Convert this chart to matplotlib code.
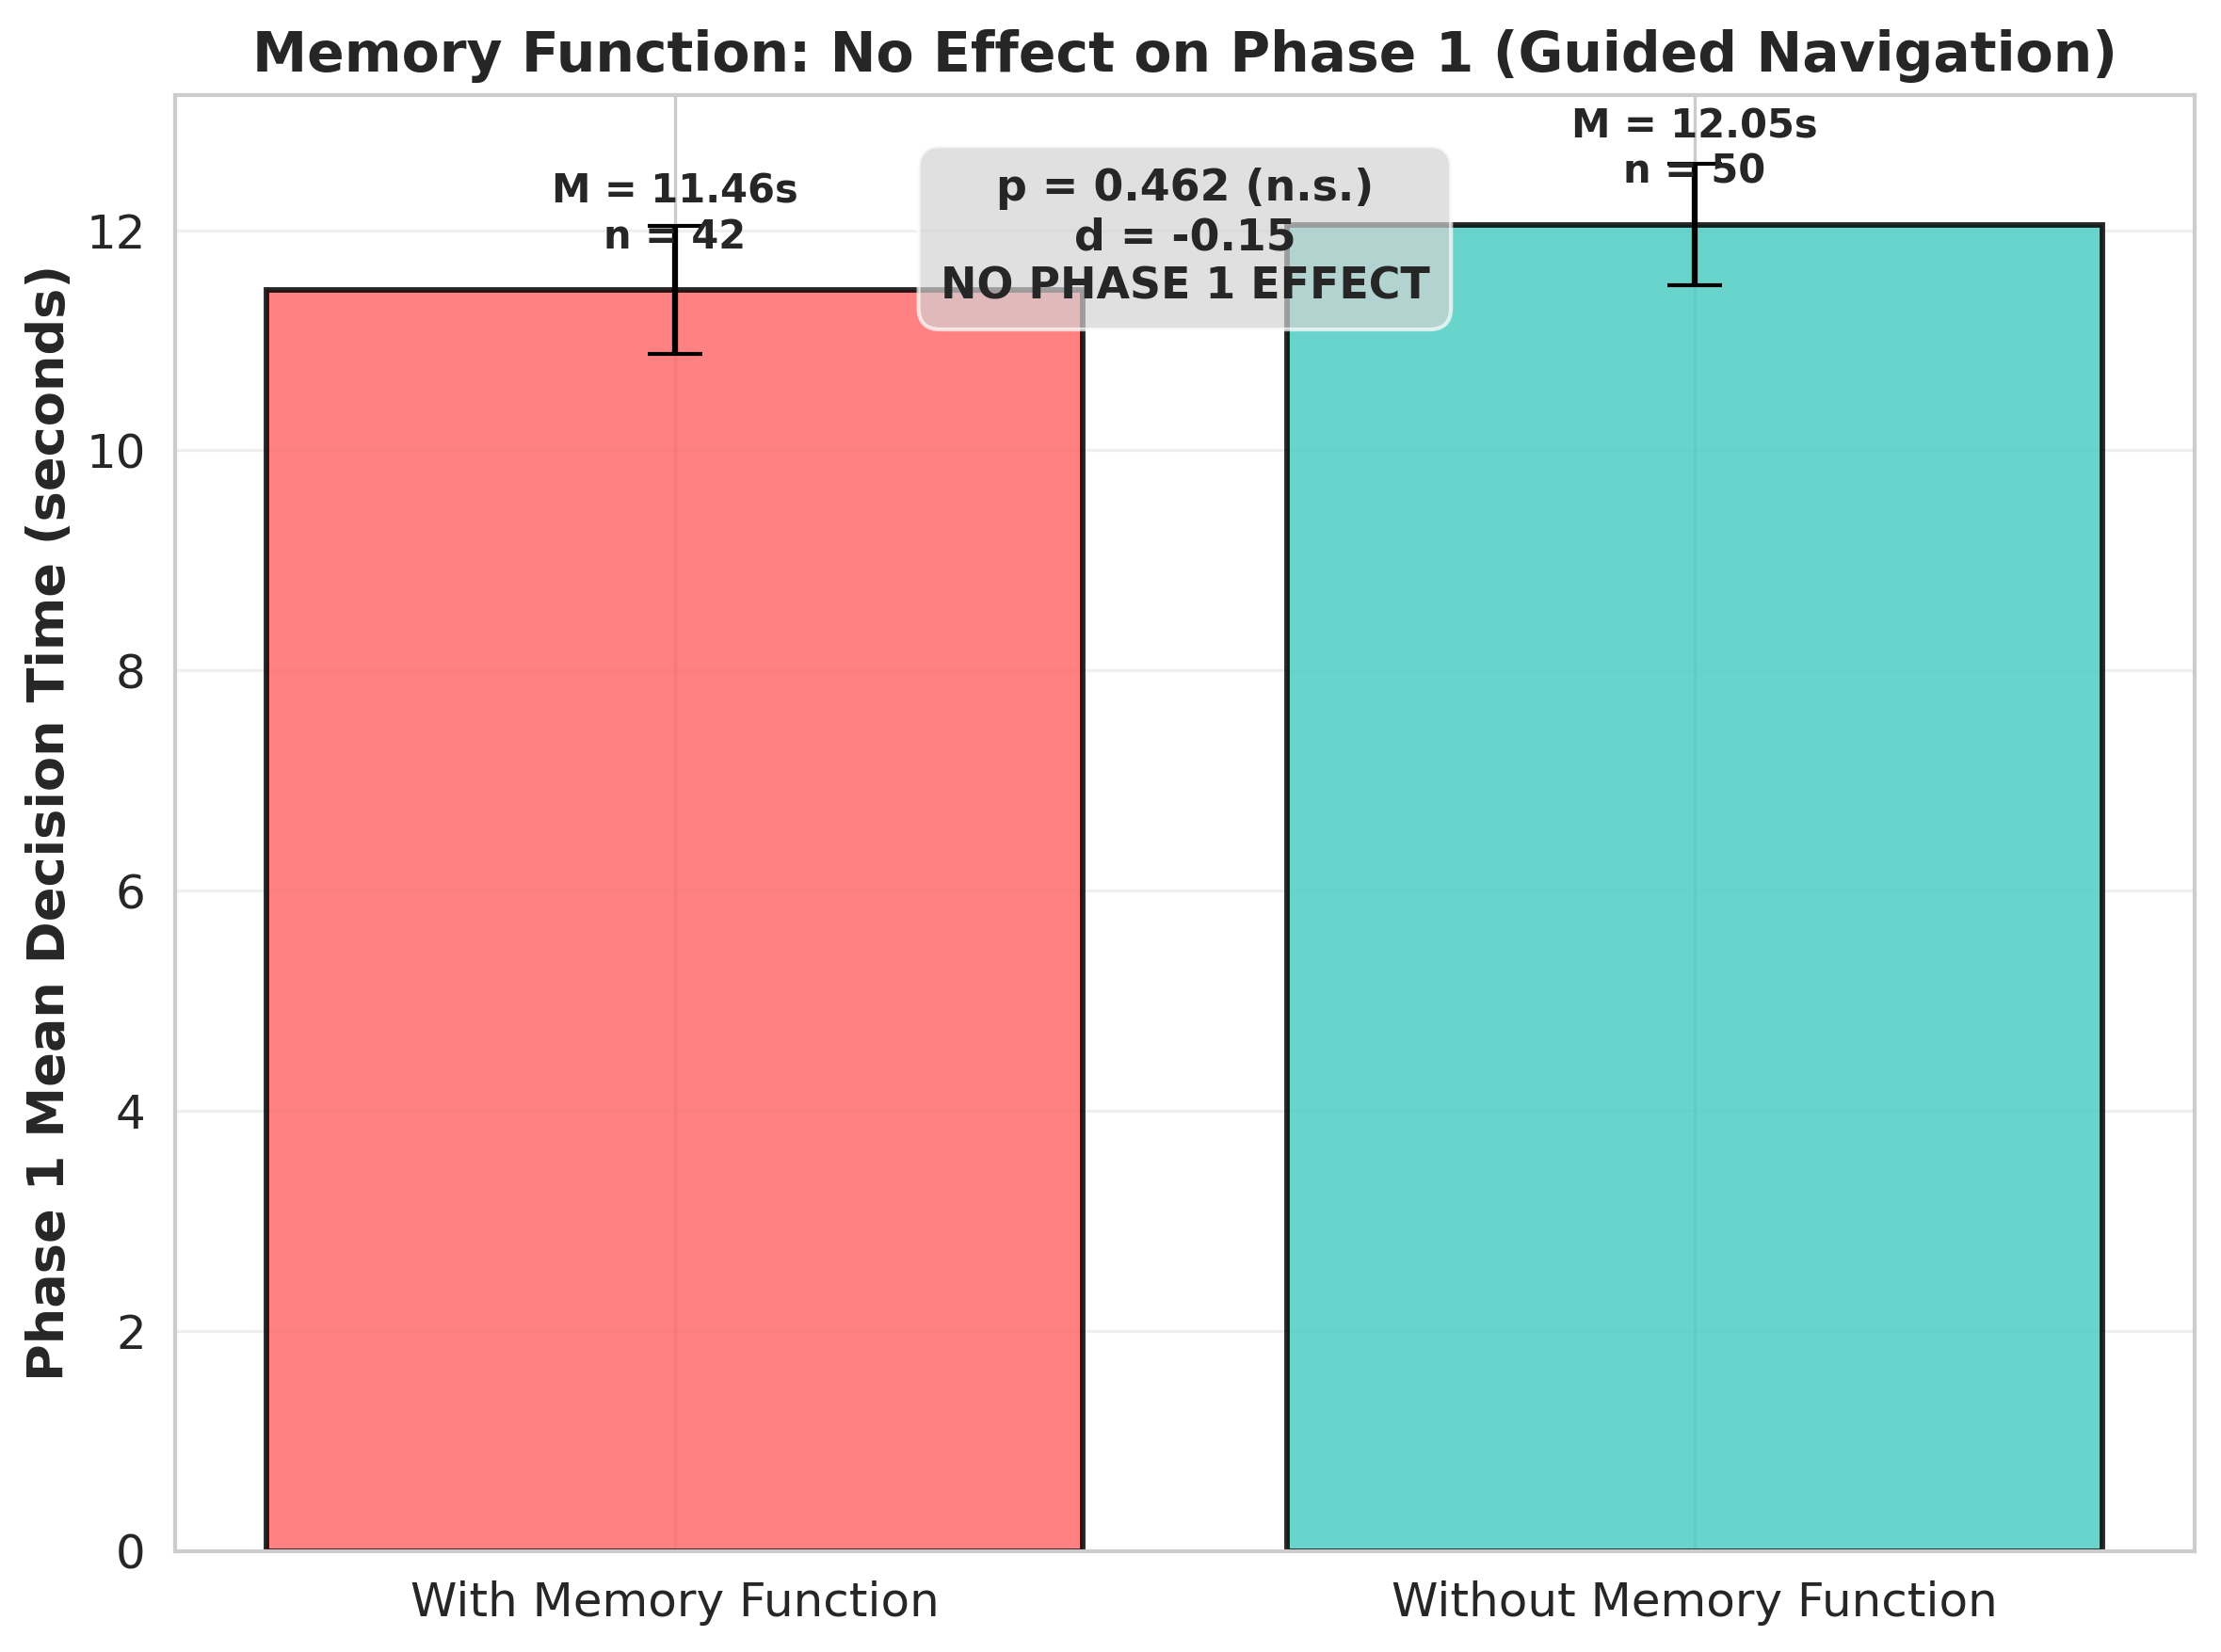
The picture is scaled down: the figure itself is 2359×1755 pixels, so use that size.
'''
Phase 1 decision time, with vs without memory function
'''

import numpy
import matplotlib
matplotlib.use('Agg')
import matplotlib.pyplot as plt
import seaborn as sns


groups = ['With Memory Function', 'Without Memory Function']
means = [11.46, 12.05]     # seconds
sems = [0.58, 0.55]        # standard error of the mean
counts = [42, 50]
bar_colors = ['#FF6B6B', '#4ECDC4']

p_value = 0.462
cohen_d = -0.15


sns.set_style('whitegrid')

DPI = 300
fig = plt.figure(figsize=(2359 / DPI, 1755 / DPI), dpi=DPI)
ax = fig.add_axes([0.0788, 0.0611, 0.9093, 0.8815])

x = numpy.arange(len(groups))

ax.bar(x, means, width=0.8, color=bar_colors, alpha=0.85,
       edgecolor='black', linewidth=1.4)
ax.errorbar(x, means, yerr=sems, fmt='none', ecolor='black',
            elinewidth=1.5, capsize=7, capthick=1.0)

# mean / n labels above each bar
for i in range(len(groups)):
  ax.text(x[i], means[i] + 0.3, 'M = {0:.2f}s\nn = {1}'.format(means[i], counts[i]),
          ha='center', va='bottom', fontsize=10, fontweight='bold', color='#262626')

ax.text(0.5, 0.95,
        'p = {0:.3f} (n.s.)\nd = {1:.2f}\nNO PHASE 1 EFFECT'.format(p_value, cohen_d),
        transform=ax.transAxes, ha='center', va='top',
        fontsize=11, fontweight='bold', color='#262626',
        bbox=dict(boxstyle='round,pad=0.5', facecolor='lightgray',
                  edgecolor='white', alpha=0.7))

ax.set_xticks(x)
ax.set_xticklabels(groups)
ax.tick_params(axis='both', labelsize=12, length=0, pad=7.5)

ax.set_ylabel('Phase 1 Mean Decision Time (seconds)', fontsize=13, fontweight='bold',
              labelpad=3)
ax.set_title('Memory Function: No Effect on Phase 1 (Guided Navigation)',
             fontsize=14, fontweight='bold')

ax.grid(axis='y', alpha=0.3)
for s in ax.spines.values():
  s.set_color('#cccccc')
  s.set_linewidth(1.0)

#plt.show()
fig.savefig('out.png', dpi=DPI)
plt.close(fig)
